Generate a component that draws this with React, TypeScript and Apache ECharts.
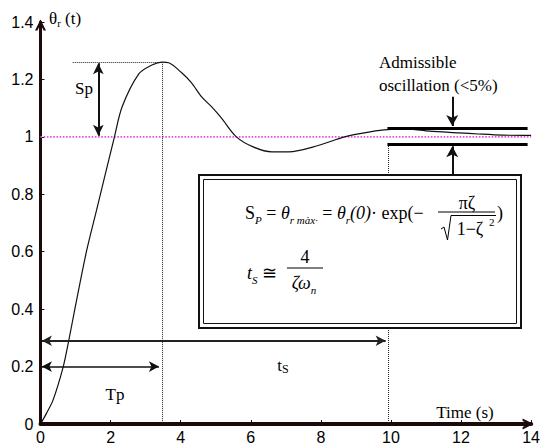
import React, { useEffect, useRef } from "react";
import * as echarts from "echarts";

// Step response of the closed loop, θr(t)
const timeS = [0, 0.17, 0.36, 0.65, 0.81, 0.98, 1.31, 1.6, 2.11, 2.33, 2.81, 3.18, 3.47, 3.66, 4.03, 4.31, 4.6, 4.88, 5.16, 5.59, 6.07, 6.6, 7.08, 7.9, 8.67, 9.24, 9.8, 10.4, 11.1, 11.95, 12.5, 13.2, 14];
const theta = [0, 0.037, 0.084, 0.2, 0.293, 0.4, 0.6, 0.745, 1.0, 1.105, 1.22, 1.25, 1.26, 1.258, 1.223, 1.188, 1.139, 1.105, 1.066, 1.0, 0.965, 0.948, 0.948, 0.969, 1.0, 1.014, 1.024, 1.028, 1.02, 1.014, 1.01, 1.006, 1.005];

// Axis ranges
const xRange = [0, 14];
const xStep = 2;
const yRange = [0, 1.4];
const yStep = 0.2;

// Characteristic values marked on the plot
const setPoint = 1;
const peakTime = 3.47;
const peakValue = 1.26;
const settleTime = 9.92;
const bandHigh = 1.03;
const bandLow = 0.975;
const bandStart = 9.9;
const bandEnd = 13.9;

const SERIF = "Liberation Serif";
const SANS = "Liberation Sans";
const AX = "#1a0a0a";
const CHEVRON = "path://M0,10 L5,0 L10,10 L7.8,10 L5,4.4 L2.2,10 Z";

type Seg = [number[], number[], string[]];

function guideSeries(name: string, segs: Seg[], lineStyle: any, symbolSize: any = [8, 10]) {
  return {
    name,
    type: "line",
    data: [],
    silent: true,
    markLine: {
      silent: true,
      animation: false,
      label: { show: false },
      emphasis: { disabled: true },
      lineStyle,
      symbolSize,
      data: segs.map(([a, b, sym]) => [
        { coord: a, symbol: sym[0] },
        { coord: b, symbol: sym[1] },
      ]),
    },
  };
}

function plain(x: number, y: number, text: string, size: number, align = "center", italic = false) {
  return {
    type: "text", x, y, z: 102,
    style: {
      text, fontSize: size, fontFamily: SERIF, fontStyle: italic ? "italic" : "normal",
      fill: "#000", align, verticalAlign: "middle",
    },
  };
}

export default function App() {
  const ref = useRef<HTMLDivElement>(null);

  useEffect(() => {
    if (!ref.current) return;
    const chart = echarts.init(ref.current, null, { renderer: "svg" });

    const dotted: Seg[] = [
      [[0.92, peakValue], [peakTime, peakValue], ["none", "none"]],
      [[peakTime, peakValue], [peakTime, 0], ["none", "none"]],
      [[settleTime, bandLow], [settleTime, 0], ["none", "none"]],
    ];
    const spArrow: Seg[] = [[[1.65, peakValue - 0.004], [1.65, setPoint + 0.004], ["arrow", "arrow"]]];
    const tpArrow: Seg[] = [[[0.04, 0.2], [peakTime - 0.09, 0.2], ["arrow", "arrow"]]];
    const tsArrow: Seg[] = [[[0.04, 0.29], [settleTime - 0.07, 0.29], ["arrow", "arrow"]]];
    const band: Seg[] = [
      [[bandStart, bandHigh], [bandEnd, bandHigh], ["none", "none"]],
      [[bandStart, bandLow], [bandEnd, bandLow], ["none", "none"]],
    ];
    const bandArrows: Seg[] = [
      [[11.75, 1.14], [11.75, bandHigh + 0.008], ["none", "arrow"]],
      [[11.75, 0.85], [11.75, bandLow - 0.008], ["none", "arrow"]],
    ];

    const sub = { fontSize: 11, fontStyle: "italic", fontFamily: SERIF, color: "#000", lineHeight: 14, verticalAlign: "bottom" };
    const n18 = { fontSize: 18, fontFamily: SERIF, color: "#000", lineHeight: 24 };
    const i18 = { fontSize: 18, fontStyle: "italic", fontFamily: SERIF, color: "#000", lineHeight: 24 };

    chart.setOption({
      animation: false,
      backgroundColor: "#fff",
      textStyle: { fontFamily: SANS },
      grid: { left: 40.5, right: 8, top: 22, bottom: 24, containLabel: false },
      xAxis: {
        type: "value",
        min: xRange[0],
        max: xRange[1],
        interval: xStep,
        axisLine: {
          show: true,
          symbol: ["none", CHEVRON],
          symbolSize: [11, 11],
          symbolOffset: [0, -3],
          lineStyle: { color: AX, width: 4 },
        },
        axisTick: { show: true, inside: true, length: 4, lineStyle: { color: AX, width: 1 } },
        axisLabel: { margin: 5, fontSize: 16, color: "#000", fontFamily: SANS },
        splitLine: { show: false },
      },
      yAxis: {
        type: "value",
        min: yRange[0],
        max: yRange[1],
        interval: yStep,
        axisLine: {
          show: true,
          symbol: ["none", CHEVRON],
          symbolSize: [11, 11],
          symbolOffset: [0, -3],
          lineStyle: { color: AX, width: 3 },
        },
        axisTick: { show: true, inside: true, length: 4, lineStyle: { color: AX, width: 1 } },
        axisLabel: { margin: 7, fontSize: 16, color: "#000", fontFamily: SANS },
        splitLine: { show: false },
      },
      series: [
        {
          name: "reference",
          type: "line",
          data: [[xRange[0], setPoint], [xRange[1], setPoint]],
          showSymbol: false,
          silent: true,
          lineStyle: { color: "#e050e0", width: 1.6, type: "dotted" },
          z: 1,
        },
        guideSeries("guides", dotted, { color: "#222", width: 1, type: "dotted" }),
        {
          name: "θr(t)",
          type: "line",
          data: timeS.map((t, i) => [t, theta[i]]),
          showSymbol: false,
          smooth: 0.3,
          silent: true,
          lineStyle: { color: "#111", width: 1.2 },
          z: 3,
        },
        guideSeries("Sp", spArrow, { color: "#111", width: 2, type: "solid" }, [8, 11]),
        guideSeries("Tp", tpArrow, { color: "#111", width: 1.5, type: "solid" }, [8, 10]),
        guideSeries("ts", tsArrow, { color: "#222", width: 2, type: "solid" }, [8, 10]),
        guideSeries("band", band, { color: "#000", width: 3, type: "solid" }),
        guideSeries("band arrows", bandArrows, { color: "#111", width: 2, type: "solid" }, [9, 11]),
      ],
      graphic: [
        // axis title
        {
          type: "text", x: 49, y: 18, z: 100,
          style: {
            text: "{n|θ}{s|r}{n| (t)}", verticalAlign: "middle",
            rich: { n: { fontSize: 17, fontFamily: SERIF, color: "#000", lineHeight: 20 }, s: { fontSize: 11, fontFamily: SERIF, color: "#000", lineHeight: 12, verticalAlign: "bottom" } },
          },
        },
        plain(84, 88, "Sp", 17),
        plain(115, 394, "Tp", 17),
        {
          type: "text", x: 283, y: 365, z: 100,
          style: {
            text: "{n|t}{s|S}", align: "center", verticalAlign: "middle",
            rich: { n: { fontSize: 17, fontFamily: SERIF, color: "#000", lineHeight: 20 }, s: { fontSize: 12, fontFamily: SERIF, color: "#000", lineHeight: 15, verticalAlign: "bottom" } },
          },
        },
        plain(465, 412, "Time (s)", 17),
        plain(379, 62, "Admissible", 17, "left"),
        plain(379, 85, "oscillation (<5%)", 17, "left"),
        // formula box with double frame
        { type: "rect", z: 100, shape: { x: 199, y: 175, width: 322, height: 153 }, style: { fill: "#fff", stroke: "#111", lineWidth: 2 } },
        { type: "rect", z: 101, shape: { x: 203.5, y: 179.5, width: 313, height: 144 }, style: { fill: "none", stroke: "#111", lineWidth: 1 } },
        {
          type: "text", x: 245, y: 213, z: 102,
          style: {
            text: "{n|S}{s|P}{n| = }{i|θ}{s|r màx·}{n| = }{i|θ}{s|r}{i|(0)}{n|· exp(−}",
            verticalAlign: "middle",
            rich: { n: n18, i: i18, s: sub },
          },
        },
        plain(467, 203, "πζ", 18),
        { type: "line", z: 102, shape: { x1: 438, y1: 212, x2: 495, y2: 212 }, style: { stroke: "#000", lineWidth: 1 } },
        { type: "polyline", z: 102, shape: { points: [[441, 229], [444, 227], [447.5, 240], [451, 215.5], [496, 215.5]] }, style: { stroke: "#000", lineWidth: 1, fill: "none" } },
        plain(470, 229, "1−ζ", 18),
        plain(489, 222, "2", 11, "left"),
        plain(497, 213, ")", 18, "left"),
        {
          type: "text", x: 247, y: 273, z: 102,
          style: {
            text: "{i|t}{s|S}{n| ≅ }", verticalAlign: "middle",
            rich: { n: n18, i: i18, s: sub },
          },
        },
        plain(305, 257, "4", 18),
        { type: "line", z: 102, shape: { x1: 287, y1: 268, x2: 323, y2: 268 }, style: { stroke: "#000", lineWidth: 1 } },
        {
          type: "text", x: 304, y: 283, z: 102,
          style: {
            text: "{i|ζω}{s|n}", align: "center", verticalAlign: "middle",
            rich: { i: i18, s: sub },
          },
        },
      ],
    });

    return () => chart.dispose();
  }, []);

  return <div ref={ref} style={{ position: "absolute", left: 0, top: 0, width: 543, height: 448 }} />;
}
